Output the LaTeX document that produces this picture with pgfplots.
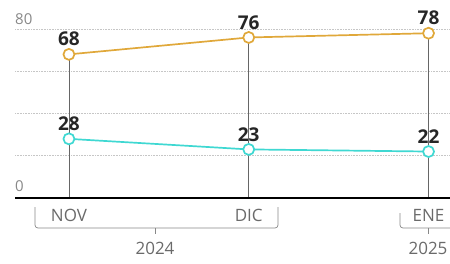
\documentclass[border=0pt]{standalone}
\usepackage{pgfplots}
\pgfplotsset{compat=1.18}
\usepackage{fontspec}
\setmainfont{Open Sans}
\definecolor{gold}{HTML}{E0A83A}
\definecolor{aqua}{HTML}{3FD8D2}
\definecolor{txtgray}{HTML}{6A6A6A}
\begin{document}
\begin{tikzpicture}[x=1pt,y=1pt]
\path[use as bounding box] (-15,-65) rectangle (435,198);
\begin{axis}[at={(0,0)}, anchor=south west, scale only axis,
  width=435pt, height=169pt,
  xmin=-0.3, xmax=2.1194, ymin=0, ymax=80,
  axis lines=none, clip=false,
  xtick=\empty, ytick=\empty,
  /pgf/number format/assume math mode=true,
  nodes near coords,
  every node near coord/.style={anchor=south, yshift=4pt, font=\fontsize{19}{19}\selectfont\bfseries, text=black!85},
]
\foreach \v in {20,40,60,80} {
  \edef\tmp{\noexpand\draw[densely dotted, gray!45, line width=0.6pt] (axis cs:-0.3,\v) -- (axis cs:2.1194,\v);}
  \tmp
}
\addplot[ycomb, gray!80!black, line width=0.6pt, no marks, nodes near coords=\empty] coordinates {(0,68) (1,76) (2,78)};
\draw[black, line width=2.5pt] (axis cs:-0.3,0) -- (axis cs:2.1194,0);
\addplot[gold, line width=1.7pt, mark=*, mark size=5.5pt, mark options={fill=white, line width=1.7pt}] coordinates {(0,68) (1,76) (2,78)};
\addplot[aqua, line width=1.7pt, mark=*, mark size=5.5pt, mark options={fill=white, line width=1.7pt}] coordinates {(0,28) (1,23) (2,22)};
\node[anchor=south west, inner sep=0pt, text=txtgray!80, font=\fontsize{15}{15}\selectfont] at (axis cs:-0.3,82) {80};
\node[anchor=south west, inner sep=0pt, text=txtgray!80, font=\fontsize{15}{15}\selectfont] at (axis cs:-0.3,3) {0};
\foreach \x/\l in {0/NOV,1/DIC,2/ENE} {
  \edef\tmp{\noexpand\node[anchor=center, text=txtgray, font=\noexpand\fontsize{17}{17}\noexpand\selectfont] at (axis cs:\x,-8.2) {\l};}
  \tmp
}
\end{axis}
\draw[txtgray!80, line width=0.7pt, rounded corners=3pt] (20,-9) -- (20,-30) -- (263,-30) -- (263,-9);
\draw[txtgray!80, line width=0.7pt] (140,-30) -- (140,-36);
\node[text=txtgray, font=\fontsize{17}{17}\selectfont] at (140,-50) {2024};
\draw[txtgray!80, line width=0.7pt, rounded corners=3pt] (385,-15) -- (385,-30) -- (436,-30);
\draw[txtgray!80, line width=0.7pt] (413,-30) -- (413,-36);
\node[text=txtgray, font=\fontsize{17}{17}\selectfont] at (413,-50) {2025};
\end{tikzpicture}
\end{document}
